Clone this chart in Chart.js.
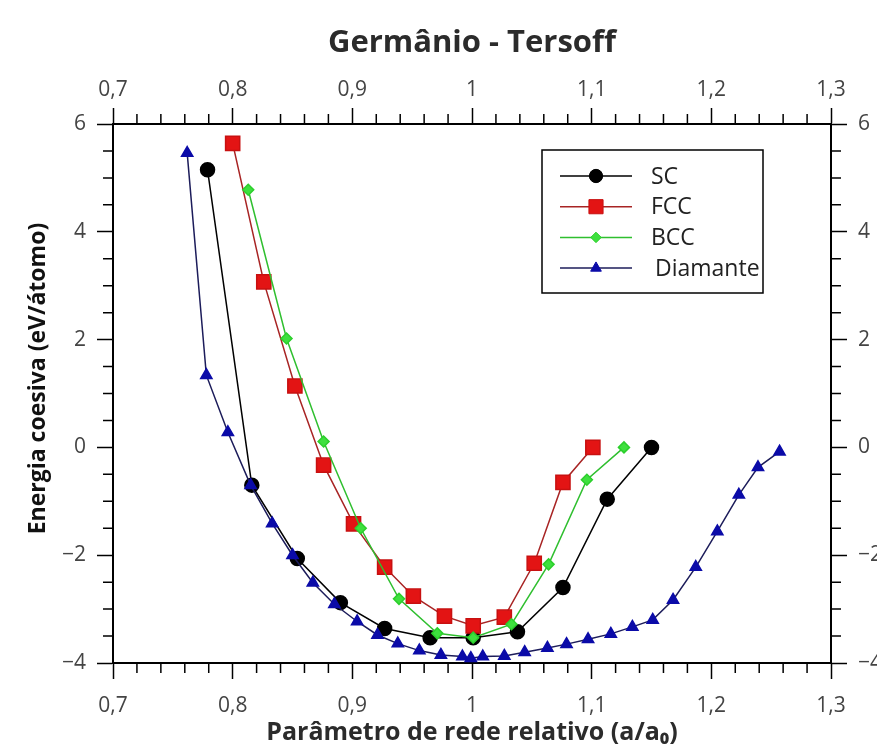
<!DOCTYPE html>
<html>
<head>
<meta charset="utf-8">
<title>Germânio - Tersoff</title>
<script src="https://cdn.jsdelivr.net/npm/chart.js@4.4.1/dist/chart.umd.min.js"></script>
<style>
  html, body { margin: 0; padding: 0; background: #fff; }
  #wrap { width: 877px; height: 750px; }
</style>
</head>
<body>
<div id="wrap"><canvas id="energyChart"></canvas></div>
<script>
// Relative lattice parameter (a/a0) and cohesive energy (eV/atom)
const scX = [0.779, 0.816, 0.854, 0.890, 0.927, 0.965, 1.001, 1.038, 1.076, 1.113, 1.150];
const scY = [5.15, -0.70, -2.06, -2.88, -3.36, -3.53, -3.53, -3.42, -2.60, -0.96, 0.00];

const fccX = [0.800, 0.826, 0.852, 0.876, 0.901, 0.927, 0.951, 0.977, 1.001, 1.027, 1.052, 1.076, 1.101];
const fccY = [5.64, 3.07, 1.14, -0.33, -1.42, -2.22, -2.76, -3.13, -3.31, -3.15, -2.15, -0.65, 0.00];

const bccX = [0.813, 0.845, 0.876, 0.907, 0.939, 0.971, 1.001, 1.033, 1.064, 1.096, 1.127];
const bccY = [4.78, 2.02, 0.11, -1.50, -2.81, -3.45, -3.53, -3.28, -2.17, -0.60, 0.00];

const diaX = [0.762, 0.778, 0.796, 0.815, 0.833, 0.850, 0.867, 0.885, 0.904, 0.921, 0.938, 0.956, 0.974,
              0.992, 0.999, 1.009, 1.027, 1.044, 1.063, 1.079, 1.097, 1.116, 1.134, 1.151, 1.168, 1.187,
              1.205, 1.223, 1.239, 1.257];
const diaY = [5.46, 1.34, 0.28, -0.70, -1.41, -2.00, -2.51, -2.91, -3.23, -3.48, -3.64, -3.77, -3.85,
              -3.88, -3.91, -3.88, -3.87, -3.80, -3.72, -3.65, -3.56, -3.46, -3.33, -3.20, -2.83, -2.22,
              -1.56, -0.88, -0.37, -0.08];

const seriesNames = ['SC', 'FCC', 'BCC', 'Diamante'];

// Axis ranges and ticks
const xMin = 0.7, xMax = 1.3, xStep = 0.1, xMinor = 0.02;
const yMin = -4, yMax = 6, yStep = 2, yMinor = 0.5;

const FONT = "'Open Sans', 'DejaVu Sans', sans-serif";
const TICK_COLOR = '#444';
const toPoints = (xs, ys) => xs.map((x, i) => ({ x: x, y: ys[i] }));
const fmtX = v => String(Math.round(v * 10) / 10).replace('.', ',');
const fmtY = v => String(Math.round(v)).replace('-', '\u2212');

// Small outward ticks between the labelled ones
const minorTicks = {
  id: 'minorTicks',
  afterDraw(chart) {
    const ctx = chart.ctx;
    const a = chart.chartArea;
    const len = 10;
    ctx.save();
    ctx.strokeStyle = '#000';
    ctx.lineWidth = 1.5;
    ctx.beginPath();
    const nx = Math.round((xMax - xMin) / xMinor);
    const per = Math.round(xStep / xMinor);
    for (let i = 1; i < nx; i++) {
      if (i % per === 0) continue;
      const v = xMin + i * xMinor;
      const pb = chart.scales.x.getPixelForValue(v);
      const pt = chart.scales.x2.getPixelForValue(v);
      ctx.moveTo(pb, a.bottom); ctx.lineTo(pb, a.bottom + len);
      ctx.moveTo(pt, a.top); ctx.lineTo(pt, a.top - len);
    }
    const ny = Math.round((yMax - yMin) / yMinor);
    const perY = Math.round(yStep / yMinor);
    for (let i = 1; i < ny; i++) {
      if (i % perY === 0) continue;
      const v = yMin + i * yMinor;
      const pl = chart.scales.y.getPixelForValue(v);
      const pr = chart.scales.y2.getPixelForValue(v);
      ctx.moveTo(a.left, pl); ctx.lineTo(a.left - len, pl);
      ctx.moveTo(a.right, pr); ctx.lineTo(a.right + len, pr);
    }
    ctx.stroke();
    ctx.restore();
  }
};

function drawMarker(ctx, style, r, x, y) {
  ctx.beginPath();
  if (style === 'circle') {
    ctx.arc(x, y, r, 0, Math.PI * 2);
  } else if (style === 'rect') {
    const s = r * Math.SQRT1_2;
    ctx.rect(x - s, y - s, 2 * s, 2 * s);
  } else if (style === 'rectRot') {
    ctx.moveTo(x - r, y); ctx.lineTo(x, y - r); ctx.lineTo(x + r, y); ctx.lineTo(x, y + r);
    ctx.closePath();
  } else {
    for (let k = 0; k < 3; k++) {
      const ang = k * 2 * Math.PI / 3;
      const px = x + Math.sin(ang) * r, py = y - Math.cos(ang) * r;
      if (k === 0) ctx.moveTo(px, py); else ctx.lineTo(px, py);
    }
    ctx.closePath();
  }
  ctx.fill();
  ctx.stroke();
}

// Boxed legend inside the plot, upper right
const boxLegend = {
  id: 'boxLegend',
  afterDraw(chart) {
    const ctx = chart.ctx;
    const a = chart.chartArea;
    const left = a.left + 429, top = a.top + 26, w = 221, h = 143;
    ctx.save();
    ctx.fillStyle = '#fff';
    ctx.fillRect(left, top, w, h);
    ctx.strokeStyle = '#000';
    ctx.lineWidth = 1.5;
    ctx.strokeRect(left, top, w, h);
    chart.data.datasets.forEach((ds, i) => {
      const y = top + 26 + i * 30.7;
      ctx.strokeStyle = ds.borderColor;
      ctx.lineWidth = 1.5;
      ctx.beginPath();
      ctx.moveTo(left + 18, y);
      ctx.lineTo(left + 90, y);
      ctx.stroke();
      ctx.fillStyle = ds.pointBackgroundColor;
      ctx.strokeStyle = ds.pointBorderColor;
      ctx.lineWidth = 1;
      drawMarker(ctx, ds.pointStyle, ds.pointRadius * (ds.pointStyle === 'rect' ? 1 : 0.95), left + 54, y);
      ctx.fillStyle = '#222';
      ctx.font = '23px ' + FONT;
      ctx.textBaseline = 'middle';
      ctx.textAlign = 'left';
      ctx.fillText(ds.label, left + (i === 3 ? 113 : 109), y + 1);
    });
    ctx.restore();
  }
};

function axisX(position, titleText, titleFont, titlePad, tickPad, size) {
  return {
    type: 'linear', position: position, min: xMin, max: xMax,
    ticks: { stepSize: xStep, callback: fmtX, autoSkip: false, maxRotation: 0,
             font: { family: FONT, size: 21 }, color: TICK_COLOR, padding: tickPad },
    grid: { drawOnChartArea: false, drawTicks: true, tickLength: 16, tickWidth: 1.5, tickColor: '#000' },
    border: { display: true, color: '#000', width: 2 },
    title: { display: true, text: titleText, color: '#2b2b2b', font: titleFont, padding: titlePad },
    afterFit: s => { s.height = size; }
  };
}

function axisY(position, showTitle, size) {
  return {
    type: 'linear', position: position, min: yMin, max: yMax,
    ticks: { stepSize: yStep, callback: fmtY, font: { family: FONT, size: 21 }, color: TICK_COLOR, padding: 11 },
    grid: { drawOnChartArea: false, drawTicks: true, tickLength: 16, tickWidth: 1.5, tickColor: '#000' },
    border: { display: true, color: '#000', width: 2 },
    // leading spaces nudge the centred title up, as in the original figure
    title: { display: showTitle, text: '     Energia coesiva (eV/átomo)', color: '#111',
             font: { family: FONT, size: 23, weight: 'bold' }, padding: { top: 25, bottom: 0 } },
    afterFit: s => { s.width = size; }
  };
}

const ctx = document.getElementById('energyChart').getContext('2d');
new Chart(ctx, {
  type: 'line',
  data: {
    datasets: [
      {
        label: seriesNames[0], data: toPoints(scX, scY), order: 4,
        borderColor: '#000', borderWidth: 1.5,
        pointStyle: 'circle', pointRadius: 7, pointBackgroundColor: '#000', pointBorderColor: '#000'
      },
      {
        label: seriesNames[1], data: toPoints(fccX, fccY), order: 3,
        borderColor: '#a82424', borderWidth: 1.5,
        pointStyle: 'rect', pointRadius: 10, pointBackgroundColor: '#e31414', pointBorderColor: '#c81010'
      },
      {
        label: seriesNames[2], data: toPoints(bccX, bccY), order: 2,
        borderColor: '#2fbf2f', borderWidth: 1.5,
        pointStyle: 'rectRot', pointRadius: 5.5, pointBackgroundColor: '#3ee03e', pointBorderColor: '#2ccf2c'
      },
      {
        label: seriesNames[3], data: toPoints(diaX, diaY), order: 1,
        borderColor: '#1c1c5a', borderWidth: 1.5,
        pointStyle: 'triangle', pointRadius: 6.5, pointBackgroundColor: '#0b0ba8', pointBorderColor: '#0b0ba8'
      }
    ]
  },
  options: {
    responsive: true,
    maintainAspectRatio: false,
    animation: false,
    devicePixelRatio: 1,
    layout: { padding: 0 },
    plugins: {
      legend: { display: false },
      tooltip: { enabled: false },
      title: { display: false }
    },
    elements: { line: { tension: 0 } },
    scales: {
      x: axisX('bottom', 'Parâmetro de rede relativo (a/a\u2080)',
               { family: FONT, size: 25, weight: 'bold' }, { top: 0, bottom: 2 }, 14, 87),
      x2: axisX('top', 'Germânio - Tersoff',
                { family: FONT, size: 31, weight: 'bold' }, { top: 25, bottom: 0 }, 5, 124),
      y: axisY('left', true, 113),
      y2: axisY('right', false, 46)
    }
  },
  plugins: [minorTicks, boxLegend]
});
</script>
</body>
</html>
